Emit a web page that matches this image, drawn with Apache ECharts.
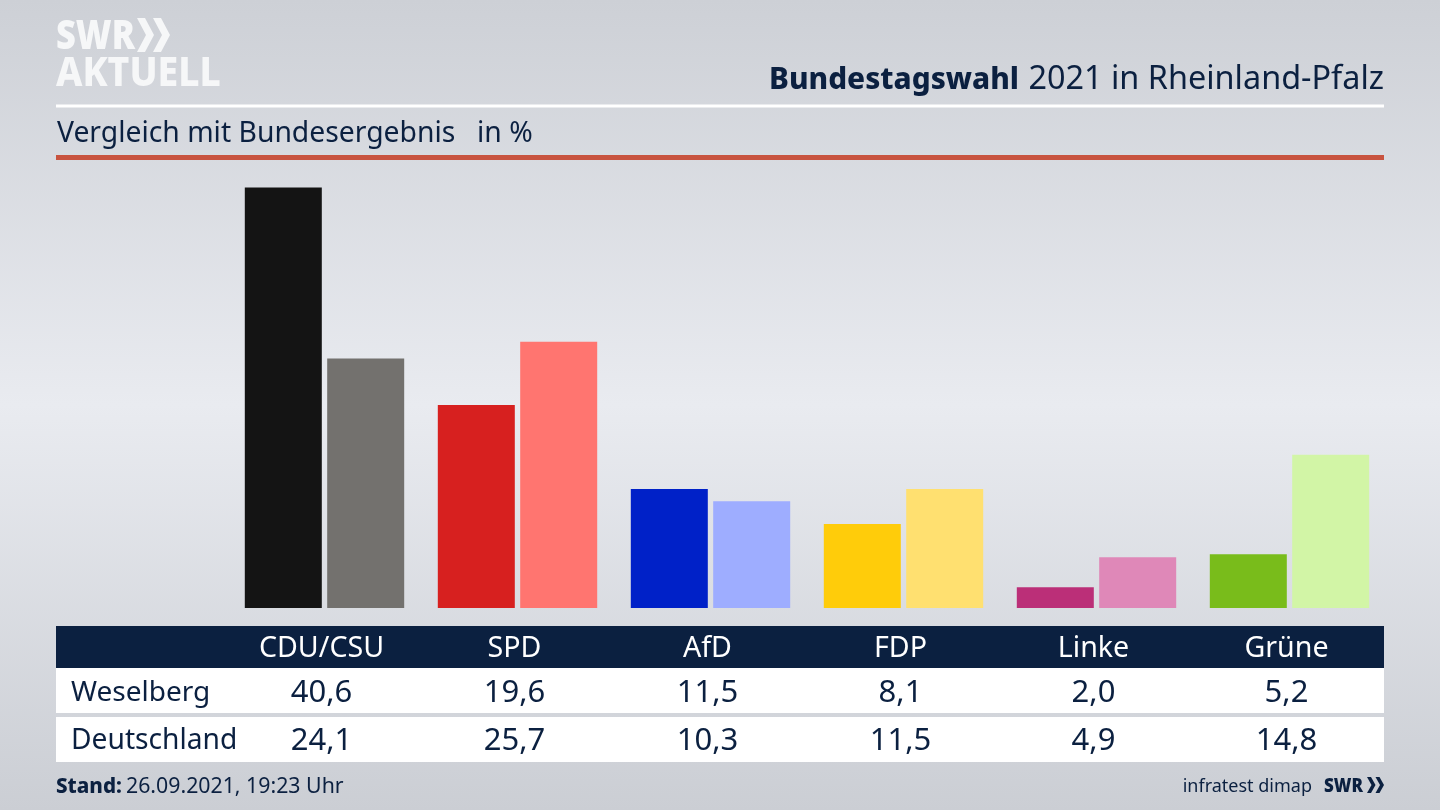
<!DOCTYPE html>
<html><head><meta charset="utf-8">
<style>html,body{margin:0;padding:0;background:#dfe1e6}#c{width:1440px;height:810px}</style>
<script src="https://cdn.jsdelivr.net/npm/echarts@6/dist/echarts.min.js"></script>
</head><body><div id="c"></div>
<script>
const parties = ['CDU/CSU','SPD','AfD','FDP','Linke','Grüne'];
const weselberg = [40.6,19.6,11.5,8.1,2.0,5.2];
const deutschland = [24.1,25.7,10.3,11.5,4.9,14.8];
const coloursA = ['#141414','#d7201f','#0021c8','#ffcc0a','#bb2f78','#79bc1b'];
const coloursB = ['#73716e','#ff7570','#9eadff','#ffe070','#df88b8','#d2f5a6'];
const rowNames = ['Weselberg','Deutschland'];
const NAVY = '#0b2040', FONT = '"Noto Sans"';
const fmt = v => v.toFixed(1).replace('.',',');
const chart = echarts.init(document.getElementById('c'),null,{renderer:'canvas'});
const tableAxis = (gridIndex,data,offset,color,size) => ({
  type:'category',gridIndex,data,position:'bottom',offset,z:10,
  axisLine:{show:false},axisTick:{show:false},splitLine:{show:false},
  axisLabel:{interval:0,hideOverlap:false,margin:23,verticalAlign:'middle',color,fontFamily:FONT,fontSize:size}
});
const txt = (text,x,y,size,weight,fill,align,scaleX) => ({
  type:'text',x,y,scaleX:scaleX||1,z:5,
  style:{text,fill,align:'left',verticalAlign:'middle',textAlign:align||'left',textVerticalAlign:'middle',font:`${weight} ${size}px ${FONT}`}
});
const rect = (x,y,w,h,fill) => ({type:'rect',z:1,shape:{x,y,width:w,height:h},style:{fill}});
const chev = (x,y,w,h,t,fill) => ({type:'polygon',z:5,shape:{points:[[x,y],[x+t,y],[x+w,y+h/2],[x+t,y+h],[x,y+h],[x+w-t,y+h/2]]},style:{fill}});
chart.setOption({
  animation:false,
  backgroundColor:{type:'linear',x:0,y:0,x2:0,y2:1,colorStops:[
    {offset:0,color:'#cdd0d6'},{offset:0.5,color:'#e9ebf0'},{offset:1,color:'#cbced4'}]},
  grid:[
    {left:228,width:1158,top:187.5,height:420.5},
    {left:225,width:1158,top:620,height:6}
  ],
  xAxis:[
    {type:'category',gridIndex:0,data:parties,show:false},
    tableAxis(1,parties,0,'#ffffff',28.6),
    tableAxis(1,weselberg.map(fmt),44,NAVY,31),
    tableAxis(1,deutschland.map(fmt),92,NAVY,31)
  ],
  yAxis:[
    {type:'value',gridIndex:0,min:0,max:40.6,show:false},
    {type:'value',gridIndex:1,show:false}
  ],
  series:[
    {name:rowNames[0],type:'bar',xAxisIndex:0,yAxisIndex:0,barWidth:77,barGap:'7%',z:3,
     data:weselberg.map((v,i)=>({value:v,itemStyle:{color:coloursA[i]}}))},
    {name:rowNames[1],type:'bar',xAxisIndex:0,yAxisIndex:0,barWidth:77,barGap:'7%',z:3,
     data:deutschland.map((v,i)=>({value:v,itemStyle:{color:coloursB[i]}}))}
  ],
  graphic:{elements:[
    rect(56,104.5,1328,3,'#ffffff'),
    rect(56,155,1328,5,'#c8533f'),
    rect(56,626,1328,42,NAVY),
    rect(56,668,1328,45,'#ffffff'),
    rect(56,717,1328,45,'#ffffff'),
    txt('SWR',56,37,41,'900','#f6f7f8','left',0.84),
    chev(137,18,17,34,8,'#f6f7f8'),
    chev(153,18,17,34,8,'#f6f7f8'),
    txt('AKTUELL',56,74,41,'800','#f6f7f8','left',0.91),
    txt('Bundestagswahl',769,80,31,'800',NAVY,'left',0.96),
    txt('2021 in Rheinland-Pfalz',1384,80,32.4,'400',NAVY,'right',1),
    txt('Vergleich mit Bundesergebnis',57,134,28.3,'400',NAVY,'left',1),
    txt('in %',477,134,28.3,'400',NAVY,'left',1),
    txt(rowNames[0],71,693,28,'400',NAVY,'left',1),
    txt(rowNames[1],71,741,28.2,'400',NAVY,'left',1),
    txt('Stand:',56,787,20.6,'800',NAVY,'left',1),
    txt('26.09.2021, 19:23 Uhr',126,787,21.3,'400',NAVY,'left',1),
    txt('infratest dimap',1312,787,18,'400',NAVY,'right',1),
    txt('SWR',1324,786,20,'900',NAVY,'left',0.85),
    chev(1367,777,8.5,16,4,NAVY),
    chev(1375.5,777,8.5,16,4,NAVY)
  ]}
});
</script></body></html>
